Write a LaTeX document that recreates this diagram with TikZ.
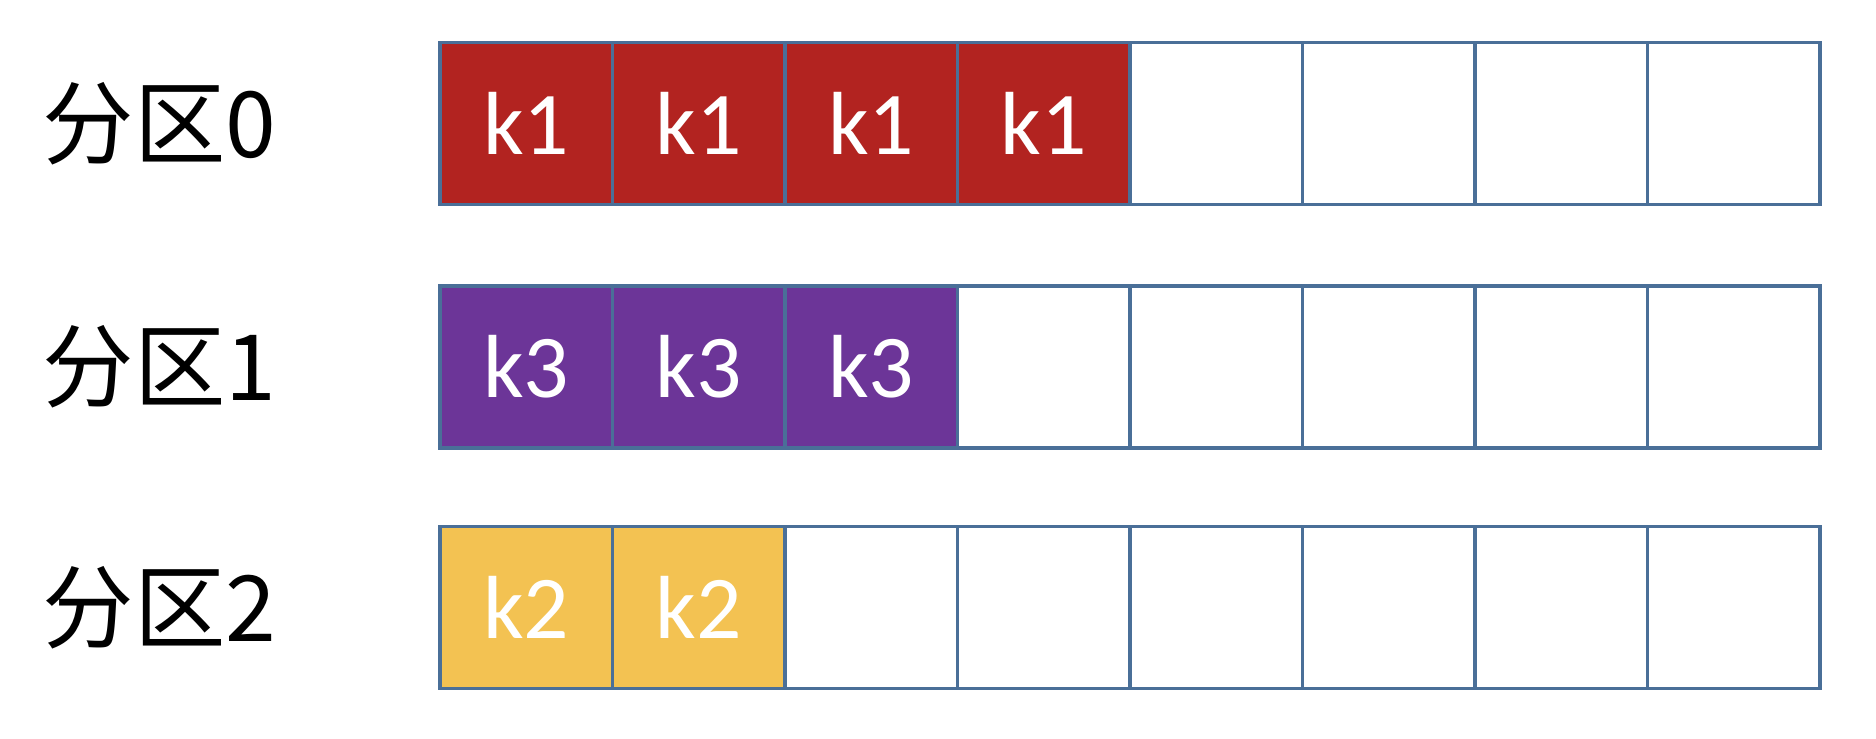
\documentclass[tikz,border=0pt]{standalone}
\usepackage{fontspec}
\setmainfont{Carlito}
\newfontfamily\cjkfont{Noto Sans CJK SC}
\usepackage{xcolor}
\definecolor{gridLine}{HTML}{4A6F98}
\definecolor{keyRed}{HTML}{B22320}
\definecolor{keyPurple}{HTML}{6C3598}
\definecolor{keyYellow}{HTML}{F3C252}
\usepackage{tikz}
\usetikzlibrary{positioning}
\tikzset{%
  slotBox/.style={%
    rectangle,
    draw=gridLine,
    line width=1.1pt,
    fill=white,
    minimum width=1.725cm,
    minimum height=1.62cm,
    inner sep=0pt,
    outer sep=0pt,
    text=white,
    font=\fontsize{25.5}{30}\selectfont
  },
  partLabel/.style={%
    anchor=west,
    inner sep=0pt,
    font=\cjkfont\fontsize{26}{30}\selectfont
  }
}
\begin{document}
\begin{tikzpicture}
            \useasboundingbox (0,0) rectangle (18.76,7.38);
            \foreach \row/\ypos/\keyColor/\keyName/\used in {0/6.145/keyRed/k1/4, 1/3.71/keyPurple/k3/3, 2/1.305/keyYellow/k2/2} {
                \node[partLabel] (part\row) at (0.42,\ypos) {分区\row};
                \node[slotBox, fill=\keyColor] (slot\row-1) at (5.2625,\ypos) {\keyName};
                \foreach \col [evaluate=\col as \prev using int(\col-1)] in {2,...,8} {
                    \ifnum\col>\used
                        \node[slotBox, right=0pt of slot\row-\prev] (slot\row-\col) {};
                    \else
                        \node[slotBox, fill=\keyColor, right=0pt of slot\row-\prev] (slot\row-\col) {\keyName};
                    \fi
                }
            }
        \end{tikzpicture}
\end{document}
